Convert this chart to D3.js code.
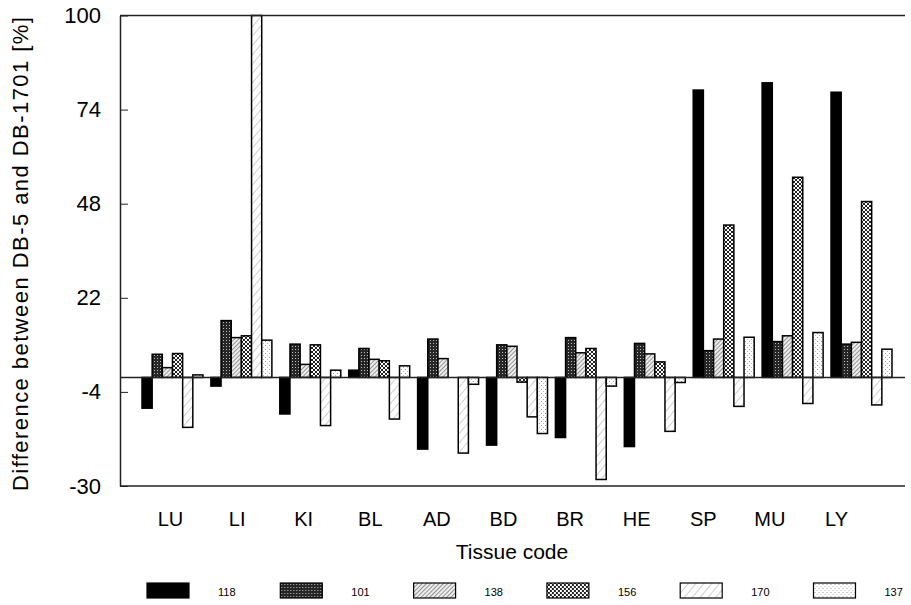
<!DOCTYPE html>
<html>
<head>
<meta charset="utf-8">
<script src="https://cdn.jsdelivr.net/npm/d3@7"></script>
<style>
  html, body { margin: 0; padding: 0; background: #fff; }
  svg { display: block; font-family: "Liberation Sans", Arial, sans-serif; }
</style>
</head>
<body>
<svg id="chart" width="911" height="605"></svg>
<script>
// Tissue codes along the x axis
const tissues = ["LU", "LI", "KI", "BL", "AD", "BD", "BR", "HE", "SP", "MU", "LY"];
// PCB congeners (one bar per congener in each tissue group)
const congeners = ["118", "101", "138", "156", "170", "137"];
// Difference between DB-5 and DB-1701 [%], per congener, in tissue order
const pcb118 = [-8.5, -2.4, -10.1, 2.0, -19.8, -18.7, -16.6, -19.1, 79.4, 81.4, 78.8];
const pcb101 = [6.4, 15.7, 9.2, 8.0, 10.6, 9.0, 11.0, 9.4, 7.4, 9.9, 9.2];
const pcb138 = [2.7, 11.0, 3.6, 5.0, 5.2, 8.6, 6.8, 6.5, 10.6, 11.5, 9.7];
const pcb156 = [6.6, 11.5, 9.0, 4.6, 0.0, -1.3, 8.0, 4.3, 42.1, 55.3, 48.6];
const pcb170 = [-13.8, 100, -13.3, -11.5, -20.9, -10.9, -28.2, -14.9, -8.0, -7.2, -7.6];
const pcb137 = [0.7, 10.3, 2.0, 3.2, -1.9, -15.5, -2.4, -1.4, 11.1, 12.4, 7.8];
// y axis tick values
const yTicks = [-30, -4, 22, 48, 74, 100];

const seriesValues = [pcb118, pcb101, pcb138, pcb156, pcb170, pcb137];
const rows = [];
congeners.forEach((c, si) => {
  tissues.forEach((t, ti) => rows.push({ tissue: t, congener: c, value: seriesValues[si][ti] }));
});

const svg = d3.select("#chart");
const axisX = 120, rightX = 905;

// fill patterns, one per congener
const defs = svg.append("defs");
const fills = {};
function pattern(id, w, h, build, transform) {
  const p = defs.append("pattern").attr("id", id).attr("patternUnits", "userSpaceOnUse")
    .attr("width", w).attr("height", h);
  if (transform) p.attr("patternTransform", transform);
  build(p);
  return "url(#" + id + ")";
}
fills["118"] = "#000";
fills["101"] = pattern("p101", 3, 3, p => {
  p.append("rect").attr("width", 3).attr("height", 3).attr("fill", "#262626");
  p.append("rect").attr("x", 1).attr("y", 1).attr("width", 1).attr("height", 1).attr("fill", "#bbb");
});
fills["138"] = pattern("p138", 3, 3, p => {
  p.append("rect").attr("width", 3).attr("height", 3).attr("fill", "#eee");
  p.append("line").attr("x1", 0).attr("y1", 0).attr("x2", 0).attr("y2", 3)
    .attr("stroke", "#555").attr("stroke-width", 1.2);
}, "rotate(45)");
fills["156"] = pattern("p156", 4, 4, p => {
  p.append("rect").attr("width", 4).attr("height", 4).attr("fill", "#fff");
  p.append("path").attr("d", "M0,0L4,4M4,0L0,4").attr("stroke", "#222").attr("stroke-width", 1);
});
fills["170"] = pattern("p170", 6, 6, p => {
  p.append("rect").attr("width", 6).attr("height", 6).attr("fill", "#fff");
  p.append("line").attr("x1", 0).attr("y1", 0).attr("x2", 0).attr("y2", 6)
    .attr("stroke", "#888").attr("stroke-width", 0.8);
}, "rotate(40)");
fills["137"] = pattern("p137", 4, 4, p => {
  p.append("rect").attr("width", 4).attr("height", 4).attr("fill", "#fff");
  p.append("rect").attr("x", 1).attr("y", 1).attr("width", 1).attr("height", 1).attr("fill", "#999");
  p.append("rect").attr("x", 3).attr("y", 3).attr("width", 1).attr("height", 1).attr("fill", "#bbb");
});

// scales
const y = d3.scaleLinear().domain([-30, 100]).range([486, 15.5]);
const x = d3.scaleBand().domain(tissues).range([142, 892]).paddingInner(0.115).paddingOuter(0);
const xs = d3.scaleBand().domain(congeners).range([0, x.bandwidth()]);
const xLabel = d3.scalePoint().domain(tissues).range([170, 836]);

// bars
svg.append("g").selectAll("rect").data(rows).join("rect")
  .attr("x", d => x(d.tissue) + xs(d.congener))
  .attr("y", d => Math.min(y(d.value), y(0)))
  .attr("width", xs.bandwidth())
  .attr("height", d => Math.abs(y(d.value) - y(0)))
  .attr("fill", d => fills[d.congener])
  .attr("stroke", "#000")
  .attr("stroke-width", d => d.value === 0 ? 0 : 1.5);

// frame lines: top, bottom, zero
const frame = svg.append("g").attr("stroke", "#222").attr("stroke-width", 1.5);
[y(100), y(-30), y(0)].forEach(v => {
  frame.append("line").attr("x1", axisX).attr("x2", rightX).attr("y1", v).attr("y2", v);
});

// y axis with inward ticks; plain hyphen for negatives
const yAxis = svg.append("g").attr("transform", `translate(${axisX},0)`)
  .call(d3.axisLeft(y).tickValues(yTicks).tickFormat(d => String(d))
    .tickSizeInner(-8).tickSizeOuter(0).tickPadding(19));
yAxis.select(".domain").attr("stroke", "#222").attr("stroke-width", 1.5);
yAxis.selectAll(".tick line").attr("stroke", "#222").attr("stroke-width", 1);
yAxis.selectAll(".tick text").attr("font-size", 22).attr("fill", "#000")
  .attr("font-family", "Liberation Sans, Arial, sans-serif");

// tissue labels
const xAxis = svg.append("g").attr("transform", "translate(0,486)")
  .call(d3.axisBottom(xLabel).tickSize(0).tickPadding(26));
xAxis.select(".domain").remove();
xAxis.selectAll(".tick text").attr("font-size", 20).attr("fill", "#000")
  .attr("font-family", "Liberation Sans, Arial, sans-serif");

// axis titles
svg.append("text").attr("x", 512).attr("y", 559).attr("text-anchor", "middle")
  .attr("font-size", 21).text("Tissue code");
svg.append("text").attr("transform", "translate(28,254) rotate(-90)").attr("text-anchor", "middle")
  .attr("font-size", 22).attr("textLength", 474).attr("lengthAdjust", "spacing")
  .text("Difference between DB-5 and DB-1701 [%]");

// legend
const legend = svg.append("g").selectAll("g").data(congeners).join("g")
  .attr("transform", (d, i) => `translate(${147 + i * 133.3},583)`);
legend.append("rect").attr("width", 42).attr("height", 15)
  .attr("fill", d => fills[d]).attr("stroke", "#000").attr("stroke-width", 1.2);
legend.append("text").attr("x", 71).attr("y", 13).attr("font-size", 11).text(d => d);
</script>
</body>
</html>
